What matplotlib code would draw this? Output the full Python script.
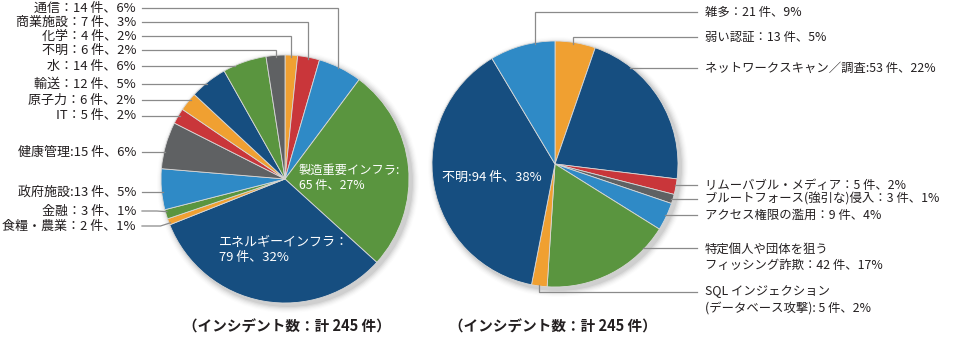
import numpy as np
import matplotlib
matplotlib.use("Agg")
import matplotlib.pyplot as plt
from matplotlib.patches import Circle

plt.rcParams['font.family'] = ['Noto Sans CJK JP', 'DejaVu Sans']

# ---------------- data ----------------
left_labels = ["化学：4 件、2%", "商業施設：7 件、3%", "通信：14 件、6%",
               "製造重要インフラ:\n65 件、27%", "エネルギーインフラ：\n79 件、32%",
               "食糧・農業：2 件、1%", "金融：3 件、1%", "政府施設:13 件、5%",
               "健康管理:15 件、6%", "IT：5 件、2%", "原子力：6 件、2%",
               "輸送：12 件、5%", "水：14 件、6%", "不明：6 件、2%"]
left_values = [4, 7, 14, 65, 79, 2, 3, 13, 15, 5, 6, 12, 14, 6]

right_labels = ["弱い認証：13 件、5%", "ネットワークスキャン／調査:53 件、22%",
                "リムーバブル・メディア：5 件、2%", "ブルートフォース(強引な)侵入：3 件、1%",
                "アクセス権限の濫用：9 件、4%", "特定個人や団体を狙う\nフィッシング詐欺：42 件、17%",
                "SQL インジェクション\n(データベース攻撃): 5 件、2%", "不明:94 件、38%",
                "雑多：21 件、9%"]
right_values = [13, 53, 5, 3, 9, 42, 5, 94, 21]

total_label = "（インシデント数：計 245 件）"

# ---------------- style ----------------
ORANGE = "#F0A031"
RED = "#C9363A"
BLUE = "#2F8AC6"
GREEN = "#5A953F"
DBLUE = "#164E80"
GRAY = "#5F6163"
TXT = "#231F20"
LINE = "#8A8A8A"

left_colors = [ORANGE, RED, BLUE, GREEN, DBLUE, ORANGE, GREEN, BLUE, GRAY,
               RED, ORANGE, DBLUE, GREEN, GRAY]
right_colors = [ORANGE, DBLUE, RED, GRAY, BLUE, GREEN, ORANGE, DBLUE, BLUE]

W, H = 960, 338
fig = plt.figure(figsize=(9.6, 3.38), dpi=100)
ax = fig.add_axes([0, 0, 1, 1])


def Y(y):
    return H - y


LC = (285, 179); LR = 124
RC = (555, 164); RR = 123


def shadow(c, r):
    for i, a in enumerate(np.linspace(0.10, 0.02, 6)):
        ax.add_patch(Circle((c[0] + 3, Y(c[1]) - 3), r + 1 + i * 1.2,
                            facecolor="black", alpha=a * 0.5, edgecolor="none", zorder=0))


shadow(LC, LR)
shadow(RC, RR)

ax.pie(left_values, colors=left_colors, startangle=90, counterclock=False,
       center=(LC[0], Y(LC[1])), radius=LR,
       wedgeprops=dict(edgecolor="#d8d8d8", linewidth=0.6))
ax.pie(right_values, colors=right_colors, startangle=90, counterclock=False,
       center=(RC[0], Y(RC[1])), radius=RR,
       wedgeprops=dict(edgecolor="#d8d8d8", linewidth=0.6))

ax.set_xlim(0, W)
ax.set_ylim(0, H)
ax.set_aspect("equal")
ax.axis("off")


def wedge_angles(values):
    v = np.asarray(values, float)
    cum = np.concatenate([[0], np.cumsum(v)]) / v.sum() * 360.0
    return list(zip(cum[:-1], cum[1:]))


L_ANG = wedge_angles(left_values)
R_ANG = wedge_angles(right_values)

LW = 0.9


def hleader(c, r, ang, side, ly, x0):
    """Horizontal leader from x0 at label height ly to the wedge (angles clockwise from top)."""
    a1, a2 = np.radians(ang[0]), np.radians(ang[1])
    ys = sorted([c[1] - r * np.cos(a1), c[1] - r * np.cos(a2)])
    ty = float(np.clip(ly, ys[0] + 2, ys[1] - 2))
    tx = c[0] + side * (np.sqrt(r * r - (ty - c[1]) ** 2) - 1.5)
    if abs(ty - ly) < 0.5:
        ax.plot([x0, tx], [Y(ly), Y(ly)], color=LINE, lw=LW, zorder=5)
    else:
        xm = tx + side * 10
        ax.plot([x0, xm, tx], [Y(ly), Y(ly), Y(ty)], color=LINE, lw=LW, zorder=5)


def vleader(c, r, side, ly, vx, x0):
    ye = c[1] - np.sqrt(r * r - (vx - c[0]) ** 2) + 1.5
    ax.plot([x0, vx, vx], [Y(ly), Y(ly), Y(ye)], color=LINE, lw=LW, zorder=5,
            solid_joinstyle="miter")


FSL = 9.4
FSR = 8.9

# ---- left pie labels ----
LX0 = 142
left_v = [(2, 8, 338), (1, 22, 308), (0, 36, 291), (13, 50, 276)]
for idx, y, vx in left_v:
    ax.text(136, Y(y), left_labels[idx], ha="right", va="center", fontsize=FSL, color=TXT)
    vleader(LC, LR, -1, y, vx, LX0)

left_h = [(12, 66), (11, 84), (10, 100), (9, 116), (8, 152), (7, 192), (6, 211), (5, 226)]
for idx, y in left_h:
    ax.text(136, Y(y), left_labels[idx], ha="right", va="center", fontsize=FSL, color=TXT)
    hleader(LC, LR, L_ANG[idx], -1, y, LX0)

# inside labels
ax.text(299, Y(178), left_labels[3], ha="left", va="center", fontsize=8.8,
        color="white", linespacing=1.2, zorder=6)
ax.text(219, Y(250), left_labels[4], ha="left", va="center", fontsize=9.4,
        color="white", linespacing=1.2, zorder=6)
ax.text(442, Y(177), right_labels[7], ha="left", va="center", fontsize=9.4,
        color="white", zorder=6)

# ---- right pie labels ----
TX = 705
RX0 = 697
ax.text(TX, Y(12), right_labels[8], ha="left", va="center", fontsize=FSR, color=TXT)
vleader(RC, RR, 1, 12, 535, RX0)
ax.text(TX, Y(37), right_labels[0], ha="left", va="center", fontsize=FSR, color=TXT)
vleader(RC, RR, 1, 37, 573, RX0)

right_h = [(1, 68, 68), (2, 185, 185), (3, 199, 199), (4, 215, 215), (5, 257, 248)]
for idx, ty, ly in right_h:
    ax.text(TX, Y(ty), right_labels[idx], ha="left", va="center", fontsize=FSR,
            color=TXT, linespacing=1.3)
    hleader(RC, RR, R_ANG[idx], 1, ly, RX0)

# SQL injection (bottom wedge): line runs under the pie, then up to the wedge
ax.text(TX, Y(300), right_labels[6], ha="left", va="center", fontsize=FSR,
        color=TXT, linespacing=1.3)
a_mid = np.radians(np.mean(R_ANG[6]))
sx = RC[0] + RR * np.sin(a_mid)
sy = RC[1] - (RR - 1.5) * np.cos(a_mid)
ax.plot([RX0, sx, sx], [Y(292), Y(292), Y(sy)], color=LINE, lw=LW, zorder=5)

# totals
ax.text(287, Y(327), total_label, ha="center", va="center", fontsize=10.5,
        color=TXT, fontweight="bold")
ax.text(553, Y(327), total_label, ha="center", va="center", fontsize=10.5,
        color=TXT, fontweight="bold")

fig.savefig("out.png", dpi=100, facecolor="white")
